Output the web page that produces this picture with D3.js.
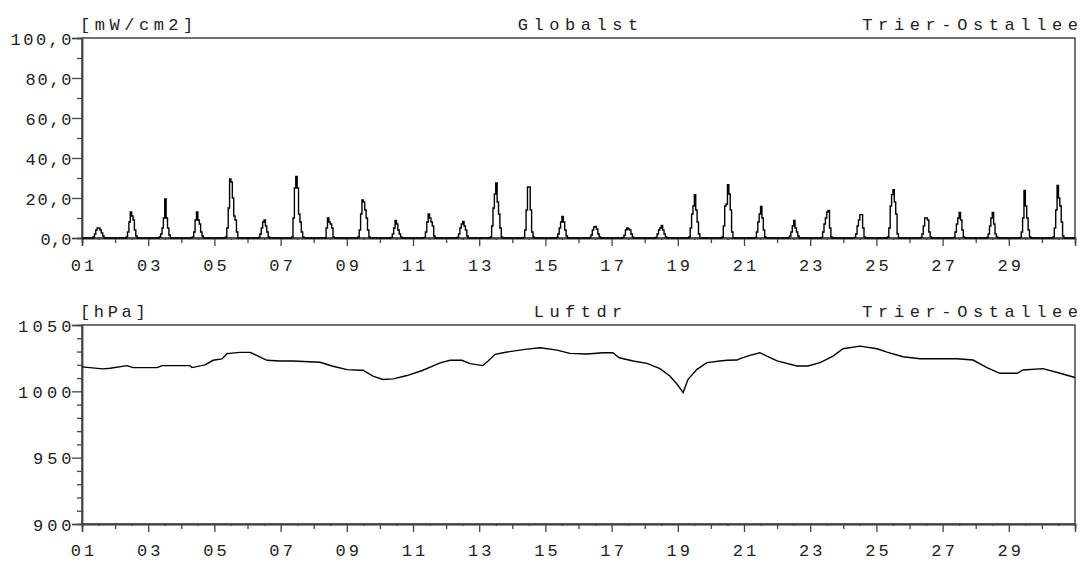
<!DOCTYPE html>
<html>
<head>
<meta charset="utf-8">
<script src="https://cdn.jsdelivr.net/npm/d3@7"></script>
<style>
  html, body { margin: 0; padding: 0; background: #fff; }
  svg { display: block; }
</style>
</head>
<body>
<svg id="chart" width="1083" height="566"></svg>
<script>
// ---------- DATA ----------
const dayTicks = [1,2,3,4,5,6,7,8,9,10,11,12,13,14,15,16,17,18,19,20,21,22,23,24,25,26,27,28,29,30];
const dayLabels = ["01","03","05","07","09","11","13","15","17","19","21","23","25","27","29"];
const labelDays = [1,3,5,7,9,11,13,15,17,19,21,23,25,27,29];

// Global radiation [mW/cm2], hourly values for hours 8..16 of each day (1..30)
const radHours = [8,9,10,11,12,13,14,15,16];
const globalst = [
  [0.5, 2, 4, 5, 5, 4, 2.5, 1, 0],
  [0.5, 3, 8, 13, 11, 9, 4, 1, 0],
  [0.5, 2, 5, 10, 19.5, 10, 5, 1.5, 0],
  [0.5, 3, 9, 13, 9, 7, 3, 1, 0],
  [0.5, 5, 15, 29.5, 28, 20, 11, 9, 3],
  [0.3, 2, 5, 8, 9, 6, 3, 0.5, 0],
  [0.5, 10, 25, 30.8, 25, 12, 8, 3, 0.5],
  [0, 5, 10, 8, 7, 5, 0.5, 0, 0],
  [0.5, 4, 12, 19, 18, 14, 10, 4, 0.5],
  [0.3, 2, 5, 8.8, 7, 4, 2, 0.5, 0],
  [0.3, 3, 8, 12, 10, 8, 6, 1, 0],
  [0.3, 2, 5, 7, 8.3, 6, 4, 1, 0],
  [0.5, 6, 15, 22, 27.5, 18, 12, 5, 0.5],
  [0.3, 4, 14, 25.5, 25.5, 14, 3, 0.5, 0],
  [0.3, 2, 5, 8, 10.8, 8, 4, 1, 0],
  [0.3, 1.5, 4, 5.5, 5.8, 4.5, 2, 0.5, 0],
  [0.3, 1.5, 4, 5, 4.5, 4, 2, 0.5, 0],
  [0.3, 2, 4, 5, 6.3, 4, 2, 0.5, 0],
  [0.5, 5, 12, 16, 21.7, 14, 8, 2, 0],
  [0.5, 6, 16, 17, 26.7, 22, 14, 3, 0],
  [0.3, 3, 8, 12, 15.8, 10, 4, 0.5, 0],
  [0.2, 1, 3, 6, 8.8, 5, 3, 1, 0],
  [0.3, 3, 7, 10, 13, 13.8, 5, 0.5, 0],
  [0.3, 2, 6, 9, 11.7, 11.7, 5, 0.5, 0],
  [0.5, 5, 16, 21.7, 24.2, 18, 12, 2, 0],
  [0.3, 2, 6, 10, 10, 9, 3, 0.5, 0],
  [0.3, 3, 7, 10, 12.8, 9, 4, 0.5, 0],
  [0.3, 2, 6, 10, 12.8, 7, 2, 0.5, 0],
  [0.3, 3, 10, 23.8, 16, 10, 4, 0.5, 0],
  [0.5, 5, 14, 26.3, 20, 16, 8, 1, 0]
];

// Air pressure [hPa] readings (fractional day, value)
const pressureDay = [1.00,1.63,1.85,2.36,2.54,3.27,3.42,4.26,4.32,4.72,4.96,5.23,5.38,5.77,6.08,6.29,6.59,6.98,7.37,8.19,8.58,9.01,9.40,9.49,9.79,10.09,10.40,10.82,11.30,11.82,12.12,12.48,12.72,13.11,13.27,13.48,13.84,14.38,14.84,15.35,15.74,16.26,16.74,17.04,17.23,17.65,18.07,18.46,18.76,18.98,19.16,19.31,19.58,19.88,20.27,20.49,20.79,20.88,21.18,21.48,21.69,22.00,22.60,22.93,23.30,23.69,23.99,24.50,25.02,25.32,25.80,26.32,27.43,27.92,28.34,28.73,29.25,29.43,30.03,30.55,31.00];
const pressureHPa = [1018.4,1016.9,1017.4,1019.4,1017.9,1017.9,1019.4,1019.4,1017.9,1019.9,1023.4,1024.4,1028.4,1029.4,1029.4,1026.9,1023.4,1022.9,1022.9,1021.9,1018.9,1016.4,1015.9,1015.9,1011.4,1008.9,1009.4,1011.9,1015.9,1021.4,1023.4,1023.4,1020.9,1019.4,1022.9,1027.9,1029.6,1031.6,1032.9,1031.1,1028.6,1028.1,1029.1,1029.1,1025.3,1022.9,1021.1,1017.1,1011.6,1005.3,999.1,1009.1,1016.6,1021.6,1022.9,1023.4,1023.6,1024.6,1027.1,1029.1,1026.6,1022.9,1019.1,1019.1,1021.6,1026.6,1032.1,1034.1,1032.1,1029.6,1026.1,1024.6,1024.6,1023.6,1017.9,1013.6,1013.6,1016.1,1017.1,1013.6,1010.4];

const radTicks = [0,20,40,60,80,100];
const radTickLabels = ["0,0","20,0","40,0","60,0","80,0","100,0"];
const radMinor = [10,30,50,70,90];
const presTicks = [900,950,1000,1050];
const presTickLabels = ["900","950","1000","1050"];
const presMinor = [910,920,930,940,960,970,980,990,1010,1020,1030,1040];

const titlesTop = {unit: "[mW/cm2]", name: "Globalst", station: "Trier-Ostallee"};
const titlesBottom = {unit: "[hPa]", name: "Luftdr", station: "Trier-Ostallee"};

// ---------- LAYOUT ----------
const FONT = "'Liberation Mono', 'DejaVu Sans Mono', monospace";
const FS = 17;
const TXT = "#222", AX = "#444";
const left = 82, right = 1075;

// width of a text in the plotter-like lettering
function count(s, re) { return (s.match(re) || []).length; }
function tickWidth(s) { return 15 * (s.length - 1) + 8.5 - 7.5 * count(s, /,/g); }
function titleWidth(s) { return 15.9 * (s.length - 1) + 9 - 3.5 * count(s, /[\[\]]/g); }

const svg = d3.select("#chart");
svg.append("rect").attr("width",1083).attr("height",566).attr("fill","#fff");

const x = d3.scaleLinear().domain([1,31]).range([left,right]);
const noonTicks = dayTicks.map(d => d + 0.5);

function styleText(sel) {
  sel.attr("font-family",FONT).attr("font-size",FS).attr("fill",TXT)
     .attr("lengthAdjust","spacing").attr("text-anchor","start");
}

function panel(top, bottom, y, majorVals, majorLabels, minorVals, titles, labelBaseline) {
  const g = svg.append("g");
  g.append("rect").attr("x",left).attr("y",top).attr("width",right-left).attr("height",bottom-top)
    .attr("fill","none").attr("stroke",AX).attr("stroke-width",1.5);

  const ya = g.append("g").attr("transform",`translate(${left},0)`)
    .call(d3.axisLeft(y).tickValues(majorVals).tickSize(10).tickFormat((d,i)=>majorLabels[i]));
  const ym = g.append("g").attr("transform",`translate(${left},0)`)
    .call(d3.axisLeft(y).tickValues(minorVals).tickSize(5).tickFormat(""));
  const xa = g.append("g").attr("transform",`translate(0,${bottom})`)
    .call(d3.axisBottom(x).tickValues(labelDays).tickSize(8).tickFormat((d,i)=>dayLabels[i]));
  const xe = g.append("g").attr("transform",`translate(0,${bottom})`)
    .call(d3.axisBottom(x).tickValues(dayTicks.filter(d => d % 2 === 0)).tickSize(5).tickFormat(""));
  const xn = g.append("g").attr("transform",`translate(0,${bottom})`)
    .call(d3.axisBottom(x).tickValues(noonTicks).tickSize(2).tickFormat(""));

  [ya, ym, xa, xe, xn].forEach(a => {
    a.select(".domain").attr("stroke",AX).attr("stroke-width",1.5);
    a.selectAll(".tick line").attr("stroke",AX).attr("stroke-width",1.3);
    a.selectAll("text").call(styleText);
  });
  ya.selectAll("text")
    .attr("textLength", function() { return tickWidth(this.textContent); })
    .attr("x", function() { return -10.5 - tickWidth(this.textContent); })
    .attr("dy","0.36em");
  xa.selectAll("text")
    .attr("textLength", function() { return tickWidth(this.textContent); })
    .attr("x", function() { return -tickWidth(this.textContent) / 2; })
    .attr("y", labelBaseline).attr("dy", 0);

  const tb = top - 8.5;
  const tw = [titleWidth(titles.unit), titleWidth(titles.name), titleWidth(titles.station)];
  const tx = [80, 578 - tw[1] / 2, 1078 - tw[2]];
  [titles.unit, titles.name, titles.station].forEach((s, i) => {
    g.append("text").attr("x", tx[i]).attr("y", tb).attr("textLength", tw[i]).text(s).call(styleText);
  });
  return g;
}

// ---------- TOP: Globalstrahlung ----------
const yR = d3.scaleLinear().domain([0,100]).range([238,38]);
const gTop = panel(38, 238, yR, radTicks, radTickLabels, radMinor, titlesTop, 33);

const radPts = [[1,0]];
globalst.forEach((vals, i) => {
  const d = dayTicks[i];
  radPts.push([d + (radHours[0]-1)/24, 0]);
  vals.forEach((v, j) => radPts.push([d + radHours[j]/24, v]));
  radPts.push([d + (radHours[radHours.length-1]+1)/24, 0]);
});
radPts.push([31,0]);

gTop.append("path").datum(radPts)
  .attr("fill","none").attr("stroke","#000").attr("stroke-width",1.4)
  .attr("d", d3.line().x(p => x(p[0])).y(p => yR(p[1])).curve(d3.curveStepAfter));

// ---------- BOTTOM: Luftdruck ----------
const yP = d3.scaleLinear().domain([900,1050]).range([524,325]);
const gBot = panel(325, 524, yP, presTicks, presTickLabels, presMinor, titlesBottom, 32);

gBot.append("path").datum(pressureDay.map((d,i)=>[d, pressureHPa[i]]))
  .attr("fill","none").attr("stroke","#000").attr("stroke-width",1.4)
  .attr("d", d3.line().x(p => x(p[0])).y(p => yP(p[1])));
</script>
</body>
</html>
